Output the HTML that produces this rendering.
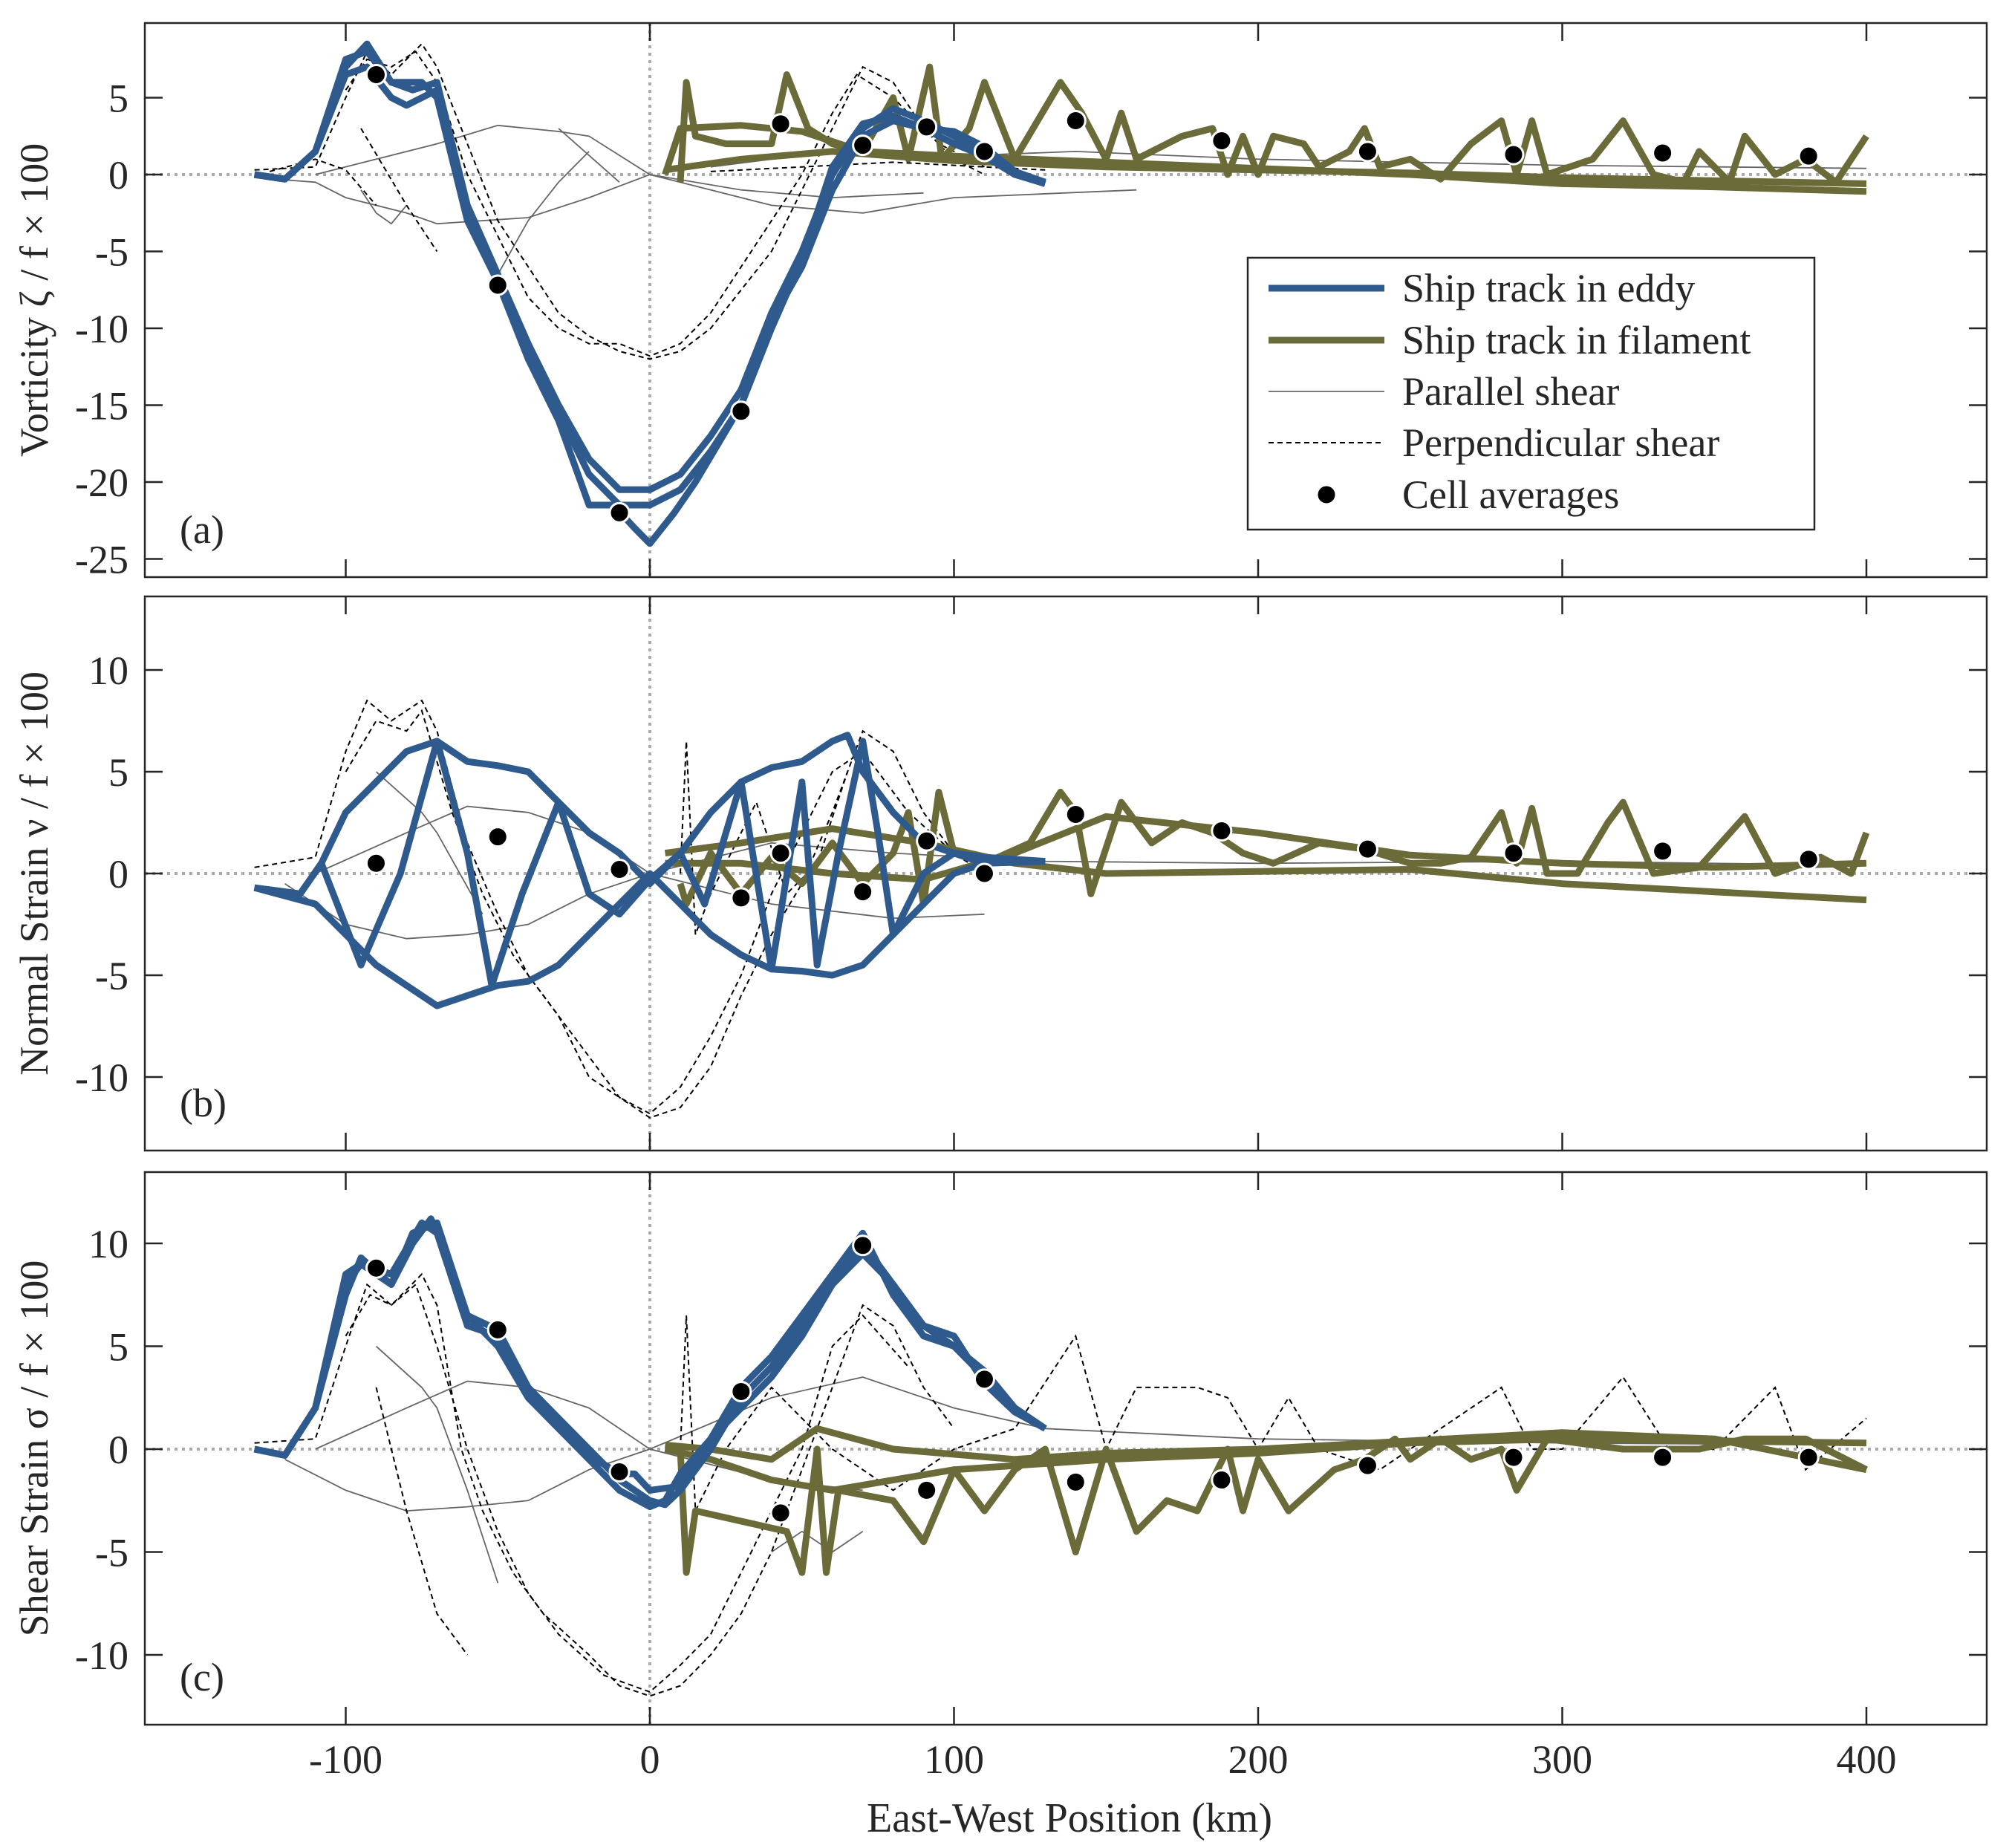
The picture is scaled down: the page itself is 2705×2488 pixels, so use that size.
<!DOCTYPE html>
<html><head><meta charset="utf-8"><style>
html,body{margin:0;padding:0;background:#fff}
svg{display:block}
text{font-family:"Liberation Serif",serif;fill:#262626}
</style></head><body>
<svg id="chart" width="2705" height="2488" viewBox="0 0 2705 2488" xmlns="http://www.w3.org/2000/svg">
<rect width="2705" height="2488" fill="#fff"/>
<g id="plots"></g>
<g id="legend">
<rect x="1680" y="347" width="763" height="366" fill="#fff" stroke="#262626" stroke-width="2.5"/>
<line x1="1708" y1="388" x2="1864" y2="388" stroke="#2e5a8e" stroke-width="9"/>
<text x="1888" y="406" font-size="54">Ship track in eddy</text>
<line x1="1708" y1="458" x2="1864" y2="458" stroke="#6b6b3a" stroke-width="9"/>
<text x="1888" y="476" font-size="54">Ship track in filament</text>
<line x1="1708" y1="527" x2="1864" y2="527" stroke="#666" stroke-width="1.8"/>
<text x="1888" y="545" font-size="54">Parallel shear</text>
<line x1="1708" y1="596" x2="1864" y2="596" stroke="#000" stroke-width="2" stroke-dasharray="7,5"/>
<text x="1888" y="614" font-size="54">Perpendicular shear</text>
<circle cx="1786" cy="666" r="13" fill="#000" stroke="#fff" stroke-width="3"/>
<text x="1888" y="684" font-size="54">Cell averages</text>
</g>
</svg>
<script>
// ---- data ----
const xTicks = [-100, 0, 100, 200, 300, 400];
const yTicksA = [5, 0, -5, -10, -15, -20, -25];
const yTicksB = [10, 5, 0, -5, -10];
const yTicksC = [10, 5, 0, -5, -10];
const cellX = [-90, -50, -10, 30, 43, 70, 91, 110, 140, 188, 236, 284, 333, 381];
const cellA = [6.5, -7.2, -22, -15.4, 3.3, 1.9, 3.1, 1.5, 3.5, 2.2, 1.5, 1.3, 1.4, 1.2];
const cellB = [0.5, 1.8, 0.2, -1.2, 1.0, -0.9, 1.6, 0, 2.9, 2.1, 1.2, 1.0, 1.1, 0.7];
const cellC = [8.8, 5.8, -1.1, 2.8, -3.1, 9.9, -2.0, 3.4, -1.6, -1.5, -0.8, -0.4, -0.4, -0.4];

const eddyA1 = [[-130,0],[-120,-0.3],[-110,1.5],[-100,7],[-93,8.5],[-85,6],[-75,6],[-70,5],[-60,-3],[-50,-7],[-40,-11],[-30,-15],[-20,-18.5],[-10,-20.5],[0,-20.5],[10,-19.5],[20,-17],[30,-14],[40,-9],[50,-5],[60,0],[70,3],[80,4.3],[90,3.5],[100,2.5],[110,1.5],[120,0],[130,-0.6]];
const eddyA2 = [[-130,0],[-120,-0.3],[-110,1.5],[-100,6.5],[-93,7],[-85,5],[-80,4.5],[-70,5.5],[-60,-2.5],[-50,-7],[-40,-12],[-30,-16],[-20,-21.5],[-12,-21.5],[-5,-23],[0,-24],[8,-22],[15,-20],[30,-15],[40,-10],[50,-5.5],[60,0.5],[70,3.3],[80,3.8],[90,3],[100,2],[110,1.2],[120,0],[130,-0.5]];
const eddyA3 = [[-130,0],[-120,-0.3],[-110,1.5],[-100,7.5],[-93,8],[-85,6],[-78,5.5],[-70,6],[-60,-2],[-50,-6.5],[-40,-11],[-30,-15.5],[-20,-19.5],[-10,-21.5],[0,-21.5],[10,-20.5],[20,-18],[30,-15],[40,-9.5],[50,-6],[60,-1],[70,2.5],[80,3.5],[90,3],[100,2.8],[110,1.8],[120,0.2],[130,-0.5]];
const filA1 = [[5,0],[10,3],[30,3.2],[50,2.8],[70,1.5],[100,1.2],[150,0.8],[200,0.4],[250,0],[300,-0.6],[350,-0.8],[400,-1.1]];
const filA2 = [[5,0.3],[30,1],[60,1.5],[100,0.9],[150,0.5],[200,0.3],[250,0.1],[300,-0.2],[350,-0.4],[400,-0.6]];
const filA3 = [[10,-0.5],[12,6],[15,2.5],[25,2],[40,2],[45,6.5],[52,3],[60,2],[70,1.5],[80,5],[85,1],[92,7],[96,1],[105,3],[110,6],[120,1],[135,6],[142,4],[150,1],[155,4],[160,1],[175,2.5],[185,3],[190,0],[195,2.5],[200,0],[205,2.5],[215,2],[220,0.5],[230,1.5],[235,3],[240,0.5],[250,1],[260,-0.3],[270,2],[280,3.5],[285,0],[290,3.5],[295,0],[310,1],[320,3.5],[330,0],[340,-0.5],[345,1.5],[355,-0.5],[360,2.5],[370,0],[380,1],[390,-0.5],[400,2.5]];
const perpA1 = [[-130,0.3],[-110,0.5],[-100,5],[-93,8],[-85,6.5],[-75,8.5],[-70,7],[-60,2],[-50,-3],[-40,-6],[-30,-9],[-20,-10.5],[-10,-11.5],[0,-12],[10,-11.5],[20,-10],[30,-7.5],[40,-5],[50,-1],[60,3],[70,7],[80,6],[90,3],[100,1],[110,0]];
const perpA2 = [[-100,5.5],[-93,7.5],[-85,7],[-77,8],[-70,6],[-60,0],[-50,-4],[-40,-8],[-30,-10],[-20,-11],[-10,-11],[0,-11.8],[10,-11],[20,-9],[30,-6],[40,-3],[50,0],[60,4],[68,6.5],[80,5],[95,2],[110,0.5]];
const perpA3 = [[-125,0.2],[-110,1],[-100,0.3],[-90,-2]];
const perpA4 = [[-95,3],[-80,-2],[-70,-5]];
const perpA5 = [[20,0.2],[50,0.5],[80,0.8],[110,0.5],[130,0.3]];
const paraA1 = [[-130,-0.2],[-110,-0.5],[-100,-1.5],[-80,-2.5],[-70,-3.2],[-40,-2.8],[-20,-1.5],[0,0],[30,-1],[60,-1.5],[90,-1.2]];
const paraA2 = [[-110,0],[-90,1],[-70,2],[-50,3.2],[-30,2.8],[-20,2.5],[0,0],[40,-2],[70,-2.5],[100,-1.5],[160,-1]];
const paraA3 = [[-95,-1],[-90,-2.5],[-85,-3.2],[-80,-2]];
const paraA4 = [[-50,-6.5],[-40,-3],[-30,-0.5],[-20,1.5]];
const paraA5 = [[-30,3],[-10,-0.5]];
const paraA6 = [[20,0.5],[60,1.5],[100,1.2],[140,1.5],[200,1],[300,0.6],[400,0.4]];

const eddyB1 = [[-130,-0.7],[-115,-1],[-108,0.5],[-100,3],[-90,4.5],[-80,6],[-70,6.5],[-60,5.5],[-50,5.3],[-40,5],[-30,3.5],[-20,2],[-10,1],[0,-0.5],[10,1],[20,3],[30,4.5],[40,5.2],[50,5.5],[60,6.5],[65,6.8],[70,5],[80,3],[90,1.5],[100,1],[110,0.8],[130,0.6]];
const eddyB2 = [[-130,-0.7],[-110,-1.5],[-100,-3],[-90,-4.5],[-80,-5.5],[-70,-6.5],[-60,-6],[-50,-5.5],[-40,-5.3],[-30,-4.5],[-20,-3],[-10,-1.5],[0,0],[10,-1.5],[20,-3],[30,-4],[40,-4.7],[50,-4.8],[60,-5],[70,-4.5],[80,-3],[90,-1.5],[100,0],[110,0.5],[130,0.6]];
const eddyB3 = [[-130,-0.7],[-115,-1],[-108,0.5],[-95,-4.5],[-82,0],[-70,6.5],[-60,1],[-52,-5.5],[-42,-1],[-30,3.5],[-20,-1],[-10,-2],[0,-0.3],[10,1],[18,-1.5],[30,4.5],[40,-4.7],[50,4.5],[55,-4.5],[62,1],[70,6.5],[75,2],[80,-3],[90,0],[100,1],[110,0.5],[130,0.6]];
const filB1 = [[5,1],[30,1.5],[60,2.2],[90,1.5],[120,0.5],[150,0],[200,0.1],[250,0.2],[300,-0.5],[350,-0.9],[400,-1.3]];
const filB2 = [[5,0.5],[30,0.5],[60,0],[90,-0.3],[120,1],[150,2.8],[200,2],[250,0.9],[300,0.5],[350,0.3],[400,0.5]];
const filB3 = [[10,-0.5],[12,-1.5],[20,1],[30,-1],[40,0.8],[50,-0.5],[60,1.5],[70,-0.5],[80,1],[85,3],[90,-1.5],[95,4],[100,1],[110,0.5],[125,1.5],[135,4],[140,3],[145,-1],[155,3.5],[165,1.5],[175,2.5],[185,2],[195,1],[205,0.5],[220,1.5],[235,1.2],[250,0.5],[260,0.5],[270,0.8],[280,3],[285,0.5],[290,3.2],[295,0],[305,0],[315,2.5],[320,3.5],[330,0],[345,0.3],[360,2.8],[370,0],[385,0.8],[395,0],[400,2]];
const perpB1 = [[-130,0.3],[-110,0.8],[-100,6],[-93,8.5],[-85,7.5],[-75,8.5],[-70,7],[-60,1.5],[-50,-2],[-40,-5],[-30,-7],[-20,-9],[-10,-11],[0,-12],[10,-11.5],[20,-9.5],[30,-6],[40,-3],[50,-0.5],[60,3],[70,7],[80,6],[90,3],[100,1],[110,0]];
const perpB2 = [[-100,5],[-90,7.5],[-80,7],[-75,8],[-65,3],[-55,-1],[-45,-4],[-30,-7],[-20,-10],[-10,-11],[0,-11.8],[10,-10.5],[20,-8],[30,-5],[40,-1],[50,2],[60,5],[70,6],[85,3],[100,1]];
const perpB3 = [[10,0],[12,6.5],[15,-3],[20,-1],[35,3.5],[45,-1],[55,0.5],[65,5]];
const paraB1 = [[-120,-0.5],[-100,-2.5],[-80,-3.2],[-60,-3],[-40,-2.5],[-20,-1],[0,0],[40,-1.5],[80,-2.2],[110,-2]];
const paraB2 = [[-110,0],[-80,2],[-60,3.3],[-40,3],[-20,2],[0,0],[40,1.5],[80,1],[130,0.6],[200,0.5],[300,0.6],[400,0.4]];
const paraB3 = [[-90,5],[-75,3],[-70,2],[-55,-2]];

const eddyC1 = [[-130,0],[-120,-0.3],[-110,2],[-100,8],[-95,9],[-85,8.5],[-75,11],[-70,10.5],[-60,6],[-50,5.5],[-40,3],[-30,1.5],[-20,0],[-10,-1.5],[0,-2.5],[5,-2.7],[10,-2],[20,0],[30,2.5],[40,4],[50,6],[60,8],[70,10],[80,8],[90,6],[100,5],[110,3.5],[120,2],[130,1]];
const eddyC2 = [[-130,0],[-120,-0.3],[-110,2],[-100,7.5],[-95,9.3],[-85,8],[-78,10],[-72,11.2],[-68,10],[-60,6.5],[-50,5],[-40,2.5],[-30,1],[-20,-0.5],[-10,-2],[0,-2.8],[5,-2.5],[10,-1.2],[20,0.5],[30,3],[40,4.5],[50,6.5],[60,8.5],[70,10.5],[80,7.5],[90,5.5],[100,5],[110,3.8],[120,2],[130,1]];
const eddyC3 = [[-130,0],[-120,-0.3],[-110,2],[-100,8.5],[-95,9],[-85,8],[-78,10.5],[-70,11],[-60,6.5],[-50,5.8],[-40,3],[-30,1.2],[-20,-0.3],[-10,-1.2],[-5,-1.2],[0,-2],[10,-1.8],[20,0.5],[30,2],[40,3.5],[50,5.5],[60,8],[70,9.5],[80,8],[90,6],[100,5.5],[110,3.2],[120,1.8],[130,1]];
const filC1 = [[5,0.2],[20,0],[40,-0.5],[55,1],[80,0],[120,-0.5],[150,-0.2],[200,0],[250,0.4],[300,0.8],[350,0.5],[400,-1]];
const filC2 = [[5,0],[20,-0.5],[40,-1.5],[60,-2],[100,-1],[150,-0.5],[200,-0.2],[250,0.3],[300,0.5],[350,0.4],[400,0.3]];
const filC3 = [[10,0],[12,-6],[15,-3],[30,-3.5],[45,-4],[50,-6],[55,0],[58,-6],[62,-2],[80,-2.5],[90,-4.5],[100,-1],[110,-3],[120,-1],[130,0],[140,-5],[150,0],[160,-4],[170,-2.5],[180,-3],[190,0],[195,-3],[200,-0.5],[210,-3],[225,-1],[235,-0.5],[245,0.5],[250,-0.5],[260,0.5],[270,-0.5],[280,0],[285,-2],[295,0.5],[320,0],[330,0],[345,0],[360,0.5],[380,0.5],[400,-1]];
const perpC1 = [[-130,0.3],[-110,0.5],[-100,5],[-93,8],[-85,7],[-75,8.5],[-70,7],[-62,0],[-55,-3],[-45,-6],[-35,-8],[-20,-10],[-10,-11.5],[0,-12],[10,-11.5],[20,-10],[30,-8],[40,-5],[50,-1],[60,3],[70,7],[80,6],[90,3],[100,1]];
const perpC2 = [[-100,5.5],[-92,7.5],[-85,7],[-77,8],[-70,5],[-60,0],[-50,-4],[-40,-7],[-30,-9],[-15,-11],[0,-11.8],[10,-10.5],[20,-9],[30,-6],[40,-3],[50,0],[60,5],[70,6.5],[85,4]];
const perpC3 = [[-90,3],[-80,-3],[-70,-8],[-60,-10]];
const perpC4 = [[10,0],[12,6.5],[15,-3],[25,0],[40,3],[60,0],[80,-2],[100,0],[120,1],[140,5.5],[150,0],[160,3],[180,3],[190,2.5],[200,0],[210,2.5],[220,0],[240,-1],[260,1],[280,3],[290,0],[300,0],[320,3.5],[335,0],[350,0],[370,3],[380,-1],[400,1.5]];
const paraC1 = [[-120,-0.5],[-100,-2],[-80,-3],[-60,-2.8],[-40,-2.5],[-20,-1],[0,0],[40,-1.5],[70,-2]];
const paraC2 = [[-110,0],[-80,2],[-60,3.3],[-40,3],[-20,2],[0,0],[40,2.5],[70,3.5],[100,2],[130,1],[200,0.5],[300,0.3],[400,0.2]];
const paraC3 = [[-90,5],[-75,3],[-70,2],[-60,-2],[-50,-6.5]];
const paraC4 = [[40,-5],[50,-4],[60,-5],[70,-4]];

// ---- layout ----
const X0 = 875, XS = 4.095, LEFT = 195, RIGHT = 2675;
const panels = [
  {name:'a', top:31, bottom:777, zero:235, sc:20.7, ticks:yTicksA, label:'Vorticity ζ / f × 100', tag:'(a)',
   eddy:[eddyA1,eddyA2,eddyA3], fil:[filA1,filA2,filA3], perp:[perpA1,perpA2,perpA3,perpA4,perpA5], para:[paraA1,paraA2,paraA3,paraA4,paraA5,paraA6], cells:cellA},
  {name:'b', top:803, bottom:1549, zero:1176, sc:27.4, ticks:yTicksB, label:'Normal Strain ν / f × 100', tag:'(b)',
   eddy:[eddyB1,eddyB2,eddyB3], fil:[filB1,filB2,filB3], perp:[perpB1,perpB2,perpB3], para:[paraB1,paraB2,paraB3], cells:cellB},
  {name:'c', top:1578, bottom:2322, zero:1951, sc:27.7, ticks:yTicksC, label:'Shear Strain σ / f × 100', tag:'(c)',
   eddy:[eddyC1,eddyC2,eddyC3], fil:[filC1,filC2,filC3], perp:[perpC1,perpC2,perpC3,perpC4], para:[paraC1,paraC2,paraC3,paraC4], cells:cellC}
];
const NS = 'http://www.w3.org/2000/svg';
const root = document.getElementById('plots');
function mk(tag, attrs, parent){ const e=document.createElementNS(NS,tag); for(const k in attrs) e.setAttribute(k,attrs[k]); parent.appendChild(e); return e; }
const xs = v => X0 + v*XS;

panels.forEach((p, pi) => {
  const ys = v => p.zero - v*p.sc;
  const g = mk('g', {}, root);
  
  
  const clipId = 'clip' + p.name;
  const cp = mk('clipPath', {id:clipId}, g);
  mk('rect', {x:LEFT, y:p.top, width:RIGHT-LEFT, height:p.bottom-p.top}, cp);
  const z1 = mk('line', {x1:LEFT, x2:RIGHT, y1:ys(0), y2:ys(0), stroke:'#aaa', 'stroke-width':4, 'stroke-dasharray':'4,6'}, g);
  
  
  const z2 = mk('line', {x1:xs(0), x2:xs(0), y1:p.top, y2:p.bottom, stroke:'#aaa', 'stroke-width':4, 'stroke-dasharray':'4,6'}, g);
  
  
  const data = mk('g', {'clip-path':'url(#'+clipId+')'}, g);
  const path = pts => pts.map((q,i)=>(i?'L':'M')+xs(q[0]).toFixed(1)+' '+ys(q[1]).toFixed(1)).join(' ');
  p.para.forEach((s,i)=>{ const e=mk('path',{d:path(s),fill:'none',stroke:'#666','stroke-width':1.8},data);
    
     });
  p.perp.forEach((s,i)=>{ const e=mk('path',{d:path(s),fill:'none',stroke:'#000','stroke-width':2,'stroke-dasharray':'7,5'},data);
    
     });
  p.fil.forEach((s,i)=>{ const e=mk('path',{d:path(s),fill:'none',stroke:'#6b6b3a','stroke-width':9,'stroke-linejoin':'round'},data);
    
     });
  p.eddy.forEach((s,i)=>{ const e=mk('path',{d:path(s),fill:'none',stroke:'#2e5a8e','stroke-width':9,'stroke-linejoin':'round'},data);
    
     });
  cellX.forEach((cx,i)=>{ const e=mk('circle',{cx:xs(cx),cy:ys(p.cells[i]),r:13,fill:'#000',stroke:'#fff','stroke-width':3},data);
    
     });
  const fr = mk('rect', {x:LEFT, y:p.top, width:RIGHT-LEFT, height:p.bottom-p.top, fill:'none', stroke:'#262626', 'stroke-width':2.5}, g);
  
  
  p.ticks.forEach(t=>{
    const y = ys(t);
    mk('line',{x1:LEFT,x2:LEFT+24,y1:y,y2:y,stroke:'#262626','stroke-width':2.5},g);
    mk('line',{x1:RIGHT,x2:RIGHT-24,y1:y,y2:y,stroke:'#262626','stroke-width':2.5},g);
    const tl = mk('text',{x:LEFT-22,y:y+19,'font-size':54,'text-anchor':'end'},g);
    tl.textContent = String(t);
    
    
  });
  xTicks.forEach(t=>{
    const x = xs(t);
    mk('line',{x1:x,x2:x,y1:p.bottom,y2:p.bottom-24,stroke:'#262626','stroke-width':2.5},g);
    mk('line',{x1:x,x2:x,y1:p.top,y2:p.top+24,stroke:'#262626','stroke-width':2.5},g);
    if (pi===2) {
      const tl = mk('text',{x:x,y:2387,'font-size':54,'text-anchor':'middle'},g);
      tl.textContent = String(t);
      
      
    }
  });
  const cy = (p.top+p.bottom)/2;
  const yl = mk('text',{x:64,y:cy,'font-size':54,'text-anchor':'middle',transform:'rotate(-90 64 '+cy+')'},g);
  yl.textContent = p.label;
  
  
  const tg = mk('text',{x:242,y:p.bottom-46,'font-size':54},g);
  tg.textContent = p.tag;
  
  
});
const xl = mk('text',{x:1440,y:2466,'font-size':56,'text-anchor':'middle'},root);
xl.textContent = 'East-West Position (km)';


document.getElementById('chart').appendChild(document.getElementById('legend'));
</script>
</body></html>
